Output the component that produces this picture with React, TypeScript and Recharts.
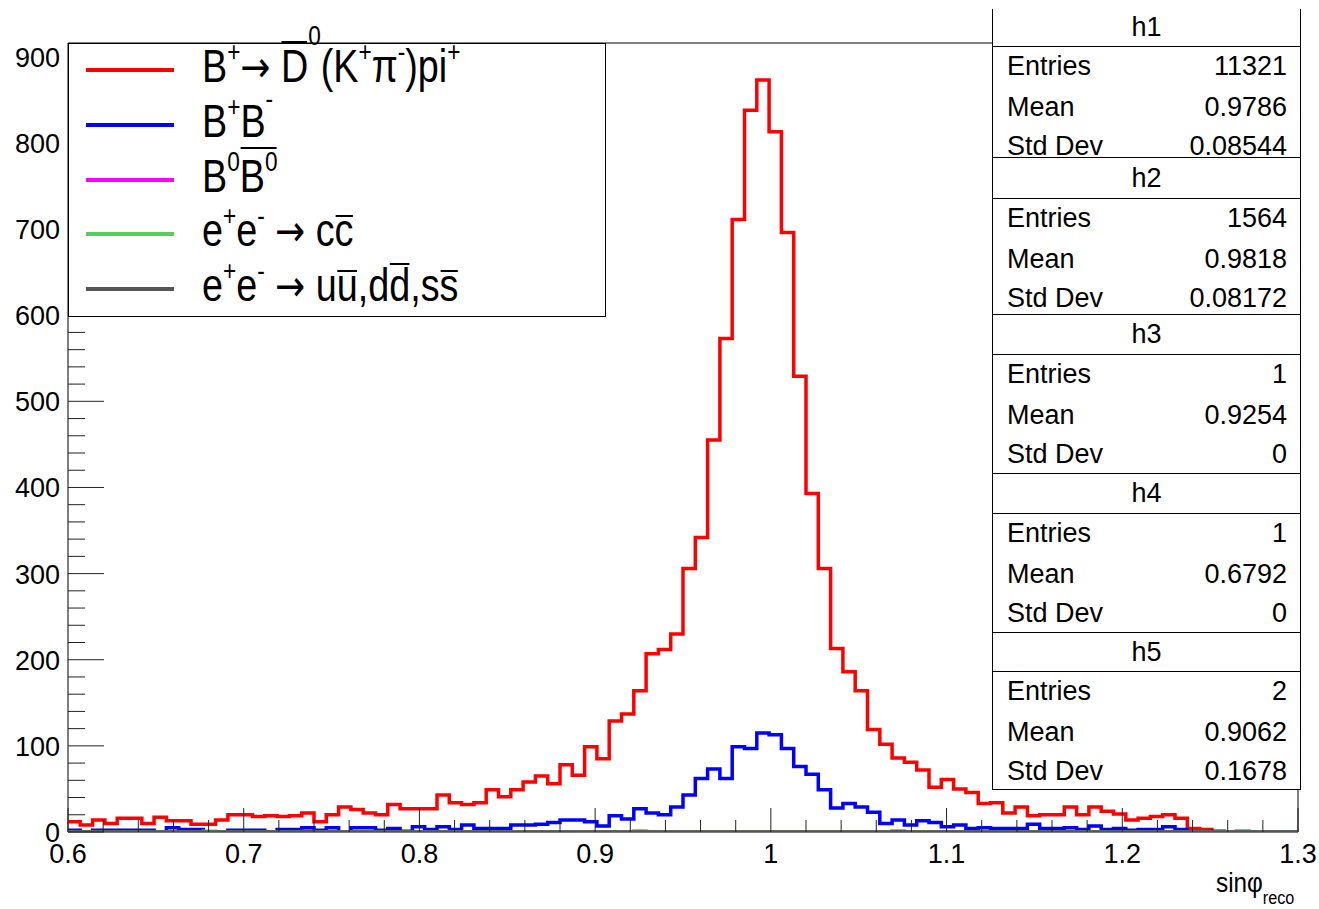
import React from "react";
import { LineChart, Line, XAxis, YAxis, ReferenceArea } from "recharts";

// histogram range: 100 bins from 0.6 to 1.3
const X_MIN = 0.6;
const X_MAX = 1.3;
const N_BINS = 100;
const Y_MAX = 916;

// h1: B+ -> D0bar(K+ pi-) pi+   (counts per bin)
const signalCounts = [
  12, 8, 14, 10, 16, 16, 10, 17, 13, 13, 9, 9, 14, 20, 20, 18, 19, 18, 19, 22,
  12, 20, 29, 26, 22, 20, 32, 27, 27, 27, 43, 34, 32, 34, 49, 41, 49, 58, 65, 56,
  78, 66, 99, 85, 129, 137, 164, 207, 212, 230, 306, 342, 455, 573, 711, 838, 873, 813, 696, 529,
  393, 306, 213, 186, 164, 119, 102, 86, 81, 72, 52, 61, 50, 46, 33, 34, 22, 29, 19, 20,
  20, 29, 20, 29, 24, 21, 14, 16, 18, 20, 16, 4, 3, 0, 0, 1, 0, 0, 0, 0,
];

// h2: B+B-
const chargedCounts = [
  2, 0, 2, 2, 2, 2, 2, 0, 5, 3, 3, 0, 0, 2, 2, 2, 0, 3, 3, 5,
  2, 5, 0, 5, 5, 2, 4, 1, 6, 3, 6, 3, 8, 4, 4, 4, 8, 8, 9, 11,
  14, 14, 12, 7, 19, 15, 27, 22, 20, 29, 43, 62, 73, 62, 99, 97, 115, 113, 97, 76,
  67, 49, 28, 33, 29, 23, 10, 14, 8, 13, 11, 6, 8, 4, 5, 4, 4, 4, 9, 4,
  4, 5, 3, 7, 3, 4, 2, 3, 3, 6, 3, 0, 0, 1, 0, 0, 0, 0, 0, 0,
];

// sparse histograms: bin index -> count
const neutralBins = [46];
const neutralCounts = [1];
const ccbarBins = [11];
const ccbarCounts = [1];
const udsBins = [19, 67];
const udsCounts = [1, 1];

const xMajorTicks = [0.6, 0.7, 0.8, 0.9, 1.0, 1.1, 1.2, 1.3];
const yMajorTicks = [0, 100, 200, 300, 400, 500, 600, 700, 800, 900];

const statNames = ["h1", "h2", "h3", "h4", "h5"];
const statEntries = ["11321", "1564", "1", "1", "2"];
const statMeans = ["0.9786", "0.9818", "0.9254", "0.6792", "0.9062"];
const statStdDevs = ["0.08544", "0.08172", "0", "0", "0.1678"];

const FONT = "'Liberation Sans', Arial, Helvetica, sans-serif";

function sparse(bins: number[], counts: number[]) {
  const out = new Array(N_BINS).fill(0);
  bins.forEach((b, i) => (out[b] = counts[i]));
  return out;
}

const h3 = sparse(neutralBins, neutralCounts);
const h4 = sparse(ccbarBins, ccbarCounts);
const h5 = sparse(udsBins, udsCounts);

const binWidth = (X_MAX - X_MIN) / N_BINS;
const rows = Array.from({ length: N_BINS + 1 }, (_, i) => {
  const b = Math.min(i, N_BINS - 1);
  return {
    x: +(X_MIN + i * binWidth).toFixed(4),
    h1: signalCounts[b],
    h2: chargedCounts[b],
    h3: h3[b],
    h4: h4[b],
    h5: h5[b],
  };
});

const xTicks: number[] = [];
for (let i = 0; i <= 35; i++) xTicks.push(+(X_MIN + i * 0.02).toFixed(2));
const yTicks: number[] = [];
for (let v = 0; v <= Y_MAX; v += 20) yTicks.push(v);

const isMajor = (list: number[], v: number) => list.some((m) => Math.abs(m - v) < 1e-6);

function XTick(props: any) {
  const { x, y, payload } = props;
  const v = payload.value;
  const major = isMajor(xMajorTicks, v);
  return (
    <g>
      <line x1={x} x2={x} y1={y} y2={y - (major ? 24 : 12)} stroke="#222" strokeWidth={1} />
      {major && (
        <text x={x} y={y + 31} textAnchor="middle" fontSize={27} fontFamily={FONT} fill="#000">
          {String(+v.toFixed(1))}
        </text>
      )}
    </g>
  );
}

function YTick(props: any) {
  const { x, y, payload } = props;
  const v = payload.value;
  const major = isMajor(yMajorTicks, v);
  return (
    <g>
      <line x1={x} x2={x + (major ? 36 : 17)} y1={y} y2={y} stroke="#222" strokeWidth={1} />
      {major && (
        <text x={x - 8} y={y + 10} textAnchor="end" fontSize={27} fontFamily={FONT} fill="#000">
          {v}
        </text>
      )}
    </g>
  );
}

// small latex-like helpers for the legend labels
const Sup = ({ s, raise = 0.75 }: { s: string; raise?: number }) => (
  <span style={{ fontSize: "0.6em", position: "relative", top: `-${raise}em` }}>{s}</span>
);
const Bar = ({ children, top }: { children: any; top: number }) => (
  <span style={{ position: "relative", display: "inline-block" }}>
    {children}
    <span
      style={{ position: "absolute", left: 1, right: 1, top, height: 2, background: "#000" }}
    />
  </span>
);
const Arrow = () => (
  <span style={{ fontFamily: "'DejaVu Sans'", fontSize: "0.95em" }}>→</span>
);

const legendItems = [
  {
    color: "#ff0000",
    label: (
      <>
        B<Sup s="+" />
        <Arrow /> <Bar top={-2}>D</Bar>
        <Sup s="0" raise={1.35} />(K<Sup s="+" />π<Sup s="-" />)pi<Sup s="+" />
      </>
    ),
  },
  {
    color: "#0000ff",
    label: (
      <>
        B<Sup s="+" />B<Sup s="-" raise={1.05} />
      </>
    ),
  },
  {
    color: "#ff00ff",
    label: (
      <>
        B<Sup s="0" />
        <Bar top={-6}>
          B<Sup s="0" />
        </Bar>
      </>
    ),
  },
  {
    color: "#55d055",
    label: (
      <>
        e<Sup s="+" />e<Sup s="-" /> <Arrow /> c<Bar top={8}>c</Bar>
      </>
    ),
  },
  {
    color: "#555555",
    label: (
      <>
        e<Sup s="+" />e<Sup s="-" /> <Arrow /> u<Bar top={8}>u</Bar>,d<Bar top={1}>d</Bar>,s
        <Bar top={8}>s</Bar>
      </>
    ),
  },
];
// marker centres relative to the legend box top
const legendRowY = [26, 81, 136, 190, 245];

const statTops = [9, 157, 314, 473, 632];
const statBottom = 790;
const statTitleLines = [46, 197, 353, 512, 670];

export default function App() {
  return (
    <div
      style={{
        position: "absolute",
        left: 0,
        top: 0,
        width: 1319,
        height: 909,
        background: "#fff",
        fontFamily: FONT,
        overflow: "hidden",
      }}
    >
      <LineChart
        width={1319}
        height={909}
        data={rows}
        margin={{ top: 43, right: 21, left: 8, bottom: 37 }}
      >
        <XAxis
          dataKey="x"
          type="number"
          domain={[X_MIN, X_MAX]}
          ticks={xTicks}
          interval={0}
          allowDataOverflow
          axisLine={false}
          tickLine={false}
          tickSize={0}
          tickMargin={0}
          height={40}
          tick={(p: any) => <XTick {...p} />}
        />
        <YAxis
          type="number"
          domain={[0, Y_MAX]}
          ticks={yTicks}
          interval={0}
          allowDataOverflow
          axisLine={false}
          tickLine={false}
          tickSize={0}
          tickMargin={0}
          width={60}
          tick={(p: any) => <YTick {...p} />}
        />
        <ReferenceArea
          x1={X_MIN}
          x2={X_MAX}
          y1={0}
          y2={Y_MAX}
          fill="none"
          stroke="#000"
          strokeWidth={1}
          fillOpacity={0}
        />
        <Line type="stepAfter" dataKey="h1" stroke="#ff0000" strokeWidth={3.5} dot={false} isAnimationActive={false} />
        <Line type="stepAfter" dataKey="h2" stroke="#0000ff" strokeWidth={3.5} dot={false} isAnimationActive={false} />
        <Line type="stepAfter" dataKey="h3" stroke="#ff00ff" strokeWidth={3.5} dot={false} isAnimationActive={false} />
        <Line type="stepAfter" dataKey="h4" stroke="#55d055" strokeWidth={3.5} dot={false} isAnimationActive={false} />
        <Line type="stepAfter" dataKey="h5" stroke="#555555" strokeWidth={3.5} dot={false} isAnimationActive={false} />
      </LineChart>

      {/* legend */}
      <div
        style={{
          position: "absolute",
          left: 68,
          top: 43,
          width: 538,
          height: 274,
          border: "1px solid #000",
          boxSizing: "border-box",
          background: "#fff",
        }}
      >
        {legendItems.map((it, i) => (
          <React.Fragment key={i}>
            <div
              style={{
                position: "absolute",
                left: 17,
                top: legendRowY[i] - 2,
                width: 88,
                height: 4,
                background: it.color,
              }}
            />
            <div
              style={{
                position: "absolute",
                left: 133,
                top: legendRowY[i] - 27,
                height: 46,
                fontSize: 46,
                lineHeight: "46px",
                whiteSpace: "nowrap",
                transform: "scaleX(0.82)",
                transformOrigin: "left center",
                color: "#000",
              }}
            >
              {it.label}
            </div>
          </React.Fragment>
        ))}
      </div>

      {/* stats boxes */}
      {statNames.map((name, i) => {
        const top = statTops[i];
        const bottom = i < statNames.length - 1 ? statTops[i + 1] + 1 : statBottom;
        const line = statTitleLines[i] - top;
        const rowsY = [line + 20, line + 61, line + 100];
        const labels = ["Entries", "Mean", "Std Dev"];
        const values = [statEntries[i], statMeans[i], statStdDevs[i]];
        return (
          <div
            key={name}
            style={{
              position: "absolute",
              left: 992,
              top,
              width: 309,
              height: bottom - top,
              borderLeft: "1px solid #000",
              borderRight: "1px solid #000",
              borderBottom: "1px solid #000",
              borderTop: i === 0 ? "none" : "1px solid #000",
              boxSizing: "border-box",
              background: "#fff",
              overflow: "hidden",
              fontSize: 27,
              color: "#000",
            }}
          >
            <div
              style={{
                position: "absolute",
                left: 0,
                right: 0,
                top: 0,
                height: line,
                borderBottom: "1px solid #000",
                textAlign: "center",
                lineHeight: `${line}px`,
              }}
            >
              {name}
            </div>
            {labels.map((lb, j) => (
              <div
                key={lb}
                style={{
                  position: "absolute",
                  left: 14,
                  right: 13,
                  top: rowsY[j] - 16,
                  height: 32,
                  lineHeight: "32px",
                  display: "flex",
                  justifyContent: "space-between",
                }}
              >
                <span>{lb}</span>
                <span>{values[j]}</span>
              </div>
            ))}
          </div>
        );
      })}

      {/* x axis title */}
      <div
        style={{
          position: "absolute",
          left: 1216,
          top: 868,
          fontSize: 27,
          lineHeight: "30px",
          whiteSpace: "nowrap",
          color: "#000",
          transform: "scaleX(0.9)",
          transformOrigin: "left top",
        }}
      >
        sinφ
        <span style={{ fontSize: 18, position: "relative", top: 12 }}>reco</span>
      </div>
    </div>
  );
}
